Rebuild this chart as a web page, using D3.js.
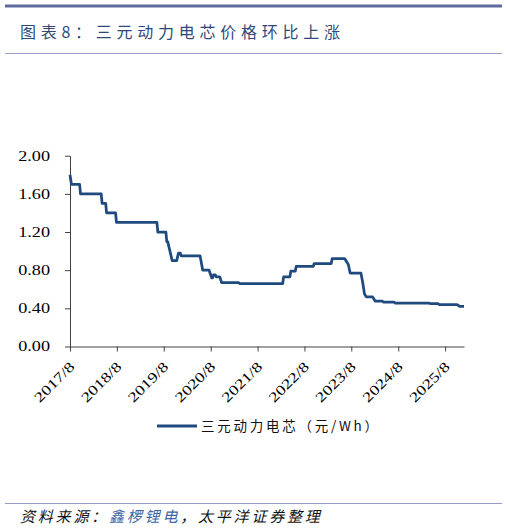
<!DOCTYPE html>
<html lang="zh">
<head>
<meta charset="utf-8">
<script src="https://d3js.org/d3.v7.min.js"></script>
<style>
  body { margin: 0; background: #fff; }
</style>
</head>
<body>
<div id="chart"></div>
<script>
// weekly price of NCM power cells at the points where it changes
var dates = [
  "2017-08-01", "2017-08-12", "2017-10-15", "2017-10-22", "2018-04-01", "2018-04-08",
  "2018-05-06", "2018-05-13", "2018-07-22", "2018-07-29", "2019-06-09", "2019-06-16",
  "2019-08-18", "2019-08-25", "2019-09-01", "2019-10-06", "2019-11-10", "2019-11-24",
  "2019-12-08", "2019-12-15", "2020-05-10", "2020-05-31", "2020-07-19", "2020-08-09",
  "2020-08-16", "2020-08-23", "2020-09-06", "2020-09-13", "2020-10-11", "2020-10-25",
  "2021-03-07", "2021-03-14", "2022-02-13", "2022-02-20", "2022-04-10", "2022-04-17",
  "2022-05-22", "2022-05-29", "2022-10-09", "2022-10-16", "2023-02-26", "2023-03-05",
  "2023-06-11", "2023-07-09", "2023-07-23", "2023-10-15", "2023-10-29", "2023-11-12",
  "2023-11-26", "2024-01-14", "2024-02-04", "2024-03-31", "2024-04-07", "2024-06-30",
  "2024-07-07", "2025-03-30", "2025-04-06", "2025-06-08", "2025-06-15", "2025-11-02",
  "2025-11-23", "2025-12-26"
];
var prices = [
  1.80, 1.70, 1.70, 1.60, 1.60, 1.50,
  1.50, 1.40, 1.40, 1.30, 1.30, 1.20,
  1.20, 1.10, 1.10, 0.90, 0.90, 0.98,
  0.98, 0.95, 0.95, 0.80, 0.80, 0.72,
  0.72, 0.75, 0.75, 0.73, 0.73, 0.67,
  0.67, 0.66, 0.66, 0.73, 0.73, 0.79,
  0.79, 0.84, 0.84, 0.87, 0.87, 0.92,
  0.92, 0.86, 0.77, 0.77, 0.67, 0.55,
  0.52, 0.52, 0.475, 0.475, 0.465, 0.465,
  0.455, 0.455, 0.45, 0.45, 0.44, 0.44,
  0.42, 0.42
];
var xTicks = ["2017-08-01", "2018-08-01", "2019-08-01", "2020-08-01", "2021-08-01",
              "2022-08-01", "2023-08-01", "2024-08-01", "2025-08-01"];
var yTicks = [0, 0.4, 0.8, 1.2, 1.6, 2.0];

var titleText = "图表8：三元动力电芯价格环比上涨";
var seriesName = "三元动力电芯（元/Wh）";

var W = 507, H = 530;
var lineColor = "#1f4a7e";
var parse = d3.timeParse("%Y-%m-%d");

var data = dates.map(function(d, i) { return {date: parse(d), value: prices[i]}; });

var svg = d3.select("#chart").append("svg")
  .attr("width", W)
  .attr("height", H);

// header and footer rules
svg.append("line").attr("x1", 5).attr("x2", 502).attr("y1", 6).attr("y2", 6)
  .attr("stroke", "#5f6b9e").attr("stroke-width", 3);
svg.append("line").attr("x1", 5).attr("x2", 502).attr("y1", 53.5).attr("y2", 53.5)
  .attr("stroke", "#959dc4").attr("stroke-width", 1);
svg.append("line").attr("x1", 5).attr("x2", 502).attr("y1", 503.5).attr("y2", 503.5)
  .attr("stroke", "#959dc4").attr("stroke-width", 1);

svg.append("text")
  .attr("x", 20).attr("y", 38)
  .attr("font-family", "Noto Sans CJK SC")
  .attr("font-size", "16px")
  .attr("fill", "#2d4a7a")
  .attr("textLength", 320)
  .attr("lengthAdjust", "spacing")
  .text(titleText);

// footer: source line
var src = svg.append("text")
  .attr("x", 20).attr("y", 522)
  .attr("font-family", "Noto Sans CJK SC")
  .attr("font-size", "15px")
  .attr("font-style", "italic")
  .attr("letter-spacing", "2.8px")
  .attr("fill", "#111");
src.append("tspan").text("资料来源：");
src.append("tspan").attr("fill", "#3f67a3").text("鑫椤锂电");
src.append("tspan").text("，太平洋证券整理");

// scales
var x = d3.scaleTime()
  .domain([data[0].date, data[data.length - 1].date])
  .range([70, 464]);
var y = d3.scaleLinear()
  .domain([0, 2])
  .range([346.5, 155.7]);

// Y axis
var gy = svg.append("g")
  .attr("transform", "translate(70,0)")
  .call(d3.axisLeft(y).tickValues(yTicks).tickSize(5).tickSizeOuter(0).tickFormat(d3.format(".2f")));
gy.select(".domain").attr("stroke", "#404040");
gy.selectAll(".tick line").attr("stroke", "#404040");
gy.selectAll(".tick text")
  .attr("x", 0)
  .attr("transform", "translate(-20,0) scale(1.3,1)")
  .attr("font-family", "Liberation Serif")
  .attr("font-size", "14px")
  .attr("fill", "#000");

// X axis
var gx = svg.append("g")
  .attr("transform", "translate(0,346.5)")
  .call(d3.axisBottom(x).tickValues(xTicks.map(parse)).tickSize(5).tickSizeOuter(0)
    .tickFormat(d3.timeFormat("%Y/%-m")));
gx.select(".domain").attr("stroke", "#404040");
gx.selectAll(".tick line").attr("stroke", "#404040");
gx.selectAll(".tick text")
  .attr("x", 0).attr("y", 0).attr("dy", null)
  .attr("text-anchor", "end")
  .attr("transform", "translate(5,21) rotate(-45) scale(1.3,1)")
  .attr("font-family", "Liberation Serif")
  .attr("font-size", "14px")
  .attr("fill", "#000");

// price line
svg.append("path")
  .datum(data)
  .attr("fill", "none")
  .attr("stroke", lineColor)
  .attr("stroke-width", 2.75)
  .attr("stroke-linejoin", "round")
  .attr("d", d3.line()
    .x(function(d) { return x(d.date); })
    .y(function(d) { return y(d.value); }));

// legend
svg.append("line").attr("x1", 157).attr("x2", 197).attr("y1", 426).attr("y2", 426)
  .attr("stroke", lineColor).attr("stroke-width", 3);
svg.append("text")
  .attr("x", 201).attr("y", 431)
  .attr("font-family", "Noto Sans CJK SC")
  .attr("font-size", "13.5px")
  .attr("fill", "#111")
  .attr("textLength", 177)
  .attr("lengthAdjust", "spacing")
  .text(seriesName);
</script>
</body>
</html>
